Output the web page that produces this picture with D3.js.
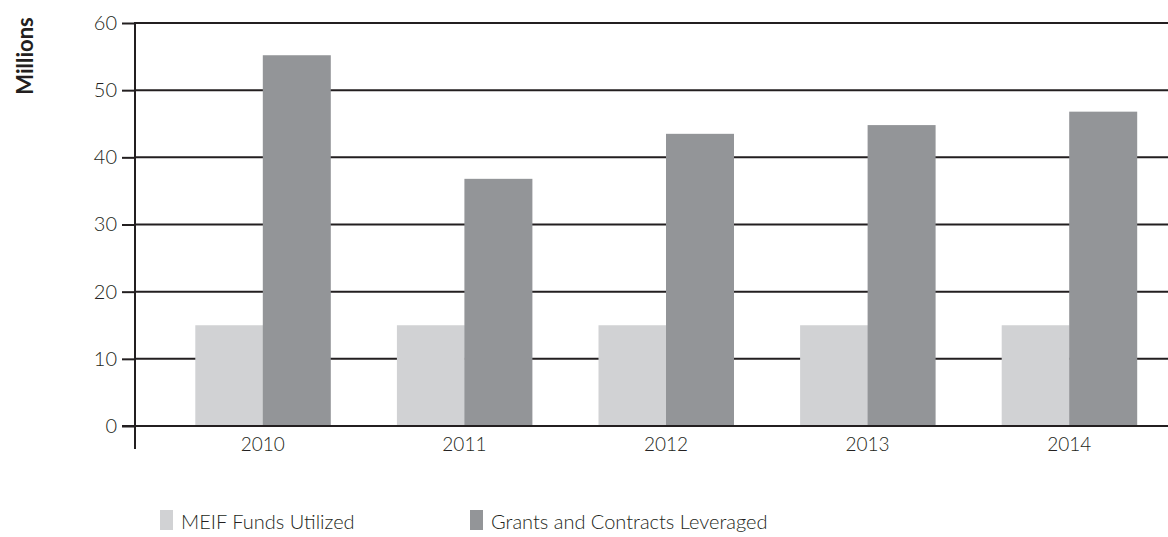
<!DOCTYPE html>
<html><head><meta charset="utf-8">
<script src="https://cdn.jsdelivr.net/npm/d3@7/dist/d3.min.js"></script>
<style>body{margin:0;background:#fff}svg{display:block}text{font-family:Lato,"Open Sans",sans-serif;fill:#231f20}</style>
</head><body><svg id="c" width="1168" height="537"></svg>
<script>
const categories = ["2010","2011","2012","2013","2014"];
const meifFunds = [15,15,15,15,15];
const grantsLeveraged = [55.2,36.8,43.5,44.8,46.8];
const yTicks = [0,10,20,30,40,50,60];
const seriesNames = ["MEIF Funds Utilized","Grants and Contracts Leveraged"];
const colors = ["#d1d2d4","#939598"];

const svg = d3.select("#c");
const x = d3.scaleBand().domain(categories).range([162,1170]).paddingInner(0).paddingOuter(0);
const sub = d3.scaleBand().domain([0,1]).range([0,135]);
const y = d3.scaleLinear().domain([0,60]).range([426,23]);
const FONT = 'Lato,"Open Sans",sans-serif';

svg.append("g").selectAll("line").data(yTicks.filter(d=>d>0)).join("line")
  .attr("x1",135).attr("x2",1168).attr("y1",d=>y(d)).attr("y2",d=>y(d))
  .attr("stroke","#231f20").attr("stroke-width",2);

const series = [meifFunds, grantsLeveraged];
categories.forEach((c,i)=>{
  const g = svg.append("g").attr("transform",`translate(${x(c)+x.bandwidth()/2-67.5},0)`);
  series.forEach((s,j)=>{
    g.append("rect").attr("x",sub(j)).attr("width",sub.bandwidth()+0.5)
      .attr("y",y(s[i])).attr("height",y(0)-y(s[i])).attr("fill",colors[j]);
  });
});

svg.append("line").attr("x1",122).attr("x2",1168).attr("y1",y(0)).attr("y2",y(0)).attr("stroke","#231f20").attr("stroke-width",2);
const yAxis = d3.axisLeft(y).tickValues(yTicks).tickSize(13).tickPadding(5);
const ya = svg.append("g").attr("transform","translate(135,0)").call(yAxis);
ya.attr("font-family",FONT).attr("font-size",20);
ya.select(".domain").remove();
ya.selectAll(".tick line").attr("stroke","#231f20").attr("stroke-width",2);
ya.selectAll(".tick text").attr("fill","#231f20").attr("font-weight",300);
svg.append("line").attr("x1",135).attr("x2",135).attr("y1",22).attr("y2",449).attr("stroke","#231f20").attr("stroke-width",2);

const xAxis = d3.axisBottom(x).tickSize(0).tickPadding(12);
const xa = svg.append("g").attr("transform",`translate(0,${y(0)})`).call(xAxis);
xa.attr("font-family",FONT).attr("font-size",19);
xa.select(".domain").remove();
xa.selectAll(".tick text").attr("fill","#231f20").attr("font-weight",300);

svg.append("text").attr("transform","translate(33,56) rotate(-90)").attr("text-anchor","middle")
  .attr("font-size",22).attr("font-weight","bold").style("font-family",FONT).text("Millions");

const legX = [160,470];
seriesNames.forEach((n,j)=>{
  svg.append("rect").attr("x",legX[j]).attr("y",510).attr("width",13).attr("height",20).attr("fill",colors[j]);
  svg.append("text").attr("x",legX[j]+21).attr("y",529).attr("font-size",20).attr("font-weight",300).text(n);
});
</script></body></html>
